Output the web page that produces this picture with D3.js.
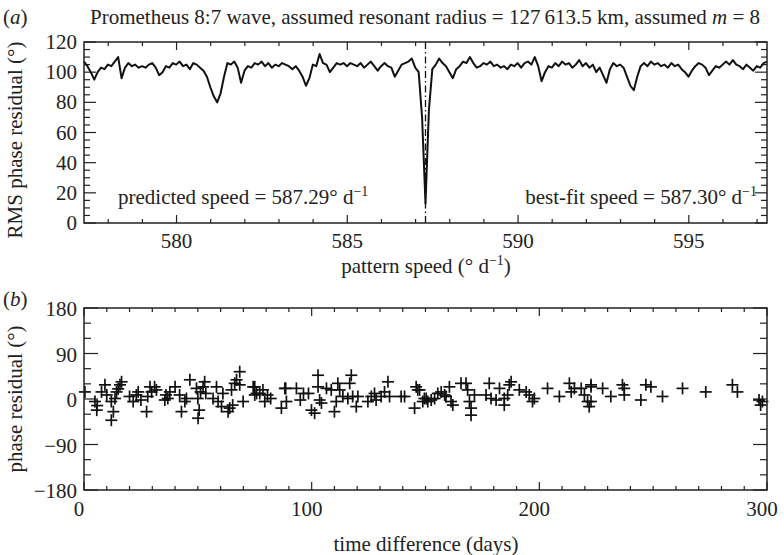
<!DOCTYPE html>
<html><head><meta charset="utf-8">
<script src="https://cdn.jsdelivr.net/npm/d3@7"></script>
<style>body{margin:0;background:#fff}svg text{font-family:"Liberation Serif","Times New Roman",serif;fill:#222}</style>
</head><body><svg id="c" width="784" height="555" font-family="Liberation Serif, serif"></svg>
<script>
// ---------- data ----------
const speedStart = 577.29, speedStep = 0.1;
const rmsResidual = [107,104,100,95,100,103,102,105,104,107,110,96,103,106,104,105,103,104,103,105,
106,103,98,100,104,103,106,105,107,104,105,102,106,105,103,101,97,90,84,80,
86,97,106,105,107,103,93,101,104,103,106,105,107,104,106,103,105,104,106,105,
104,102,104,101,97,91,96,105,104,112,106,105,100,103,106,105,106,104,106,105,
104,106,103,105,107,104,101,104,106,104,103,97,101,105,106,107,109,103,100,70,
13,75,102,105,109,106,104,100,96,102,104,107,106,110,106,103,104,106,105,107,
104,105,103,104,102,105,104,106,103,106,107,105,110,104,94,100,104,103,106,104,
107,105,106,103,105,108,104,106,103,105,100,103,98,93,102,106,104,105,103,97,
91,88,97,104,106,104,107,105,106,104,105,103,106,104,105,102,100,97,101,104,
106,105,103,98,101,104,103,105,107,105,108,105,104,102,105,103,101,104,103,106,107];
const predictedSpeed = 587.29;
const bestFitSpeed = 587.30;
const speedTicks = [580,585,590,595];
const rmsTicks = [0,20,40,60,80,100,120];

const timeDiff = [0.4,4.8,5.6,5.8,7.7,9.2,10,12,12,12.9,13.6,14.3,15,15.8,16.5,20,21.6,23,23.8,25,27.5,28,29,29.7,31,31.8,35.5,36,36.8,37.7,40,42,42.8,44.3,45,46.5,49.4,50,50.1,50.6,51.2,52.3,53,53.5,56.7,58.2,58.9,60.4,61,63.3,64,64.8,65.3,66.2,67,68.4,68.4,69.9,74.3,75.8,
75,75,77.2,78.6,79.4,80.6,82,86.7,88.2,88.6,88.9,93.3,95,96.4,98.6,99.9,101.3,102.8,102.8,103.5,104.3,106.5,108.6,110,110.8,111.5,112.3,113.7,115.9,116.7,117.4,118,119.6,120.3,124.7,126.2,127.6,128.3,130.5,132,133.5,134.2,139.3,140.8,145.2,145.9,146.6,149.5,151,
147.4,148.8,150.3,152.5,154,155.4,156.9,158.4,159,160.5,161.2,162,165.6,167.8,168.5,169.3,170,170,171.5,176.6,178,178.8,181,182.5,184.6,184.6,186.1,186.8,187.6,191.2,194.2,195.6,197,197.8,203.6,208.8,213.2,214,215.4,218.4,219.8,221.2,221.9,222.7,
222.7,222.7,227.8,231.4,236.5,237.3,237.3,244.6,246.8,249,254.1,262.9,273.1,284.8,287,296.5,297.2,298];
const phaseResidual = [14,-5,-22,-13,14,28,8,-5,-42,-25,1,14,20,28,34,5,-5,8,14,-2,-25,5,24,14,24,18,-2,8,1,14,24,8,-25,-5,1,38,21,1,-38,-22,14,24,34,11,1,24,-5,-15,11,-25,-18,18,-12,31,38,54,28,-5,24,11,
24,8,11,18,-5,8,1,-18,21,21,-5,21,-2,11,11,-22,-28,47,24,-2,-8,21,18,-25,-5,31,18,5,1,31,47,5,-15,5,-5,5,11,-2,5,14,34,5,5,5,-18,24,18,1,-5,
18,-5,1,-2,1,11,14,8,5,24,-5,-12,31,31,18,-5,-32,-18,8,8,31,1,-2,21,-12,1,8,28,34,18,14,8,-5,1,21,5,31,14,21,21,8,-5,-15,24,
28,-5,21,5,28,21,8,-2,28,24,5,21,14,28,14,-2,-12,-5];
const timeTicks = [0,100,200,300];
const phaseTicks = [-180,-90,0,90,180];

// ---------- layout ----------
const svg = d3.select("#c");
const L = 84, R = 767;
const topP = {t:42, b:223};
const botP = {t:308, b:490};
const ink = "#222";
const FS = 21, SUP = 14;

const xA = d3.scaleLinear().domain([577.29, 597.29]).range([L, R]);
const yA = d3.scaleLinear().domain([0, 120]).range([topP.b, topP.t]);

function frame(t, b){
  svg.append("rect").attr("x",L).attr("y",t).attr("width",R-L).attr("height",b-t)
    .attr("fill","none").attr("stroke",ink).attr("stroke-width",1.5);
}
function inwardTicks(g, scale, vals, len, orient, pos){
  vals.forEach(v=>{
    const p = scale(v);
    if(orient==="bottom") g.append("line").attr("x1",p).attr("x2",p).attr("y1",pos).attr("y2",pos-len);
    if(orient==="top") g.append("line").attr("x1",p).attr("x2",p).attr("y1",pos).attr("y2",pos+len);
    if(orient==="left") g.append("line").attr("y1",p).attr("y2",p).attr("x1",pos).attr("x2",pos+len);
    if(orient==="right") g.append("line").attr("y1",p).attr("y2",p).attr("x1",pos).attr("x2",pos-len);
  });
}

const tg = svg.append("g").attr("stroke",ink).attr("stroke-width",1.2);
const minorX = d3.range(578, 598, 1).filter(v=>!speedTicks.includes(v));
inwardTicks(tg, xA, minorX, 4, "bottom", topP.b);
inwardTicks(tg, xA, minorX, 4, "top", topP.t);
inwardTicks(tg, xA, speedTicks, 8, "bottom", topP.b);
inwardTicks(tg, xA, speedTicks, 8, "top", topP.t);
const minorYA = d3.range(0, 121, 5).filter(v=>v%20!==0);
inwardTicks(tg, yA, minorYA, 6, "left", L);
inwardTicks(tg, yA, minorYA, 6, "right", R);
inwardTicks(tg, yA, rmsTicks, 12, "left", L);
inwardTicks(tg, yA, rmsTicks, 12, "right", R);

const lineData = rmsResidual.map((v,i)=>({s: speedStart + i*speedStep, v}));
svg.append("path").datum(lineData)
  .attr("d", d3.line().x(d=>xA(d.s)).y(d=>yA(d.v)))
  .attr("fill","none").attr("stroke","#111").attr("stroke-width",2).attr("stroke-linejoin","round");
svg.append("line").attr("x1",xA(predictedSpeed)).attr("x2",xA(predictedSpeed))
  .attr("y1",topP.t).attr("y2",topP.b).attr("stroke","#111").attr("stroke-width",1.3)
  .attr("stroke-dasharray","7,3,1.5,3");
frame(topP.t, topP.b);

speedTicks.forEach(v=> svg.append("text").attr("x",xA(v)).attr("y",248).attr("text-anchor","middle")
  .attr("font-size",FS).text(v));
rmsTicks.forEach(v=> svg.append("text").attr("x",77).attr("y",yA(v)+7).attr("text-anchor","end")
  .attr("font-size",FS).text(v));

const title = svg.append("text").attr("x",425).attr("y",24).attr("text-anchor","middle").attr("font-size",FS);
title.append("tspan").text("Prometheus 8:7 wave, assumed resonant radius = 127\u2009613.5 km, assumed ");
title.append("tspan").attr("font-style","italic").text("m");
title.append("tspan").text(" = 8");
svg.append("text").attr("x",3).attr("y",24).attr("font-size",FS).html('(<tspan font-style="italic">a</tspan>)');

function withSup(textSel, base, tail){
  textSel.append("tspan").text(base);
  textSel.append("tspan").attr("font-size",SUP).attr("dy",-8).text("\u22121");
  if(tail) textSel.append("tspan").attr("dy",8).text(tail);
}
svg.append("text").attr("transform","translate(22,140) rotate(-90)").attr("text-anchor","middle").attr("font-size",FS)
  .text("RMS phase residual (\u00b0)");
withSup(svg.append("text").attr("x",426).attr("y",273).attr("text-anchor","middle").attr("font-size",FS),
  "pattern speed (\u00b0 d", ")");
withSup(svg.append("text").attr("x",118).attr("y",204).attr("font-size",FS),
  "predicted speed = " + predictedSpeed.toFixed(2) + "\u00b0 d");
withSup(svg.append("text").attr("x",757).attr("y",204).attr("font-size",FS).attr("text-anchor","end"),
  "best-fit speed = " + bestFitSpeed.toFixed(2) + "\u00b0 d");

// Panel (b)
const xB = d3.scaleLinear().domain([0, 300]).range([L, R]);
const yB = d3.scaleLinear().domain([-180, 180]).range([botP.b, botP.t]);
const minorT = d3.range(10, 300, 10).filter(v=>v%100!==0);
inwardTicks(tg, xB, minorT, 4, "bottom", botP.b);
inwardTicks(tg, xB, minorT, 4, "top", botP.t);
inwardTicks(tg, xB, timeTicks, 8, "bottom", botP.b);
inwardTicks(tg, xB, timeTicks, 8, "top", botP.t);
const minorP = d3.range(-150, 180, 30).filter(v=>v%90!==0);
inwardTicks(tg, yB, minorP, 7, "left", L);
inwardTicks(tg, yB, minorP, 7, "right", R);
inwardTicks(tg, yB, phaseTicks, 14, "left", L);
inwardTicks(tg, yB, phaseTicks, 14, "right", R);

const pts = timeDiff.map((t,i)=>({t, r: phaseResidual[i]}));
const mk = svg.append("g").attr("stroke","#111").attr("stroke-width",1.7);
pts.forEach(d=>{
  const x = xB(d.t), y = yB(d.r);
  mk.append("line").attr("x1",x-6).attr("x2",x+6).attr("y1",y).attr("y2",y);
  mk.append("line").attr("x1",x).attr("x2",x).attr("y1",y-6).attr("y2",y+6);
});
frame(botP.t, botP.b);

timeTicks.forEach(v=> svg.append("text").attr("x",xB(v)-5).attr("y",516).attr("text-anchor","middle")
  .attr("font-size",FS).text(v));
phaseTicks.forEach(v=> svg.append("text").attr("x",77).attr("y",yB(v)+8).attr("text-anchor","end")
  .attr("font-size",FS).text(v<0 ? "\u2212"+Math.abs(v) : v));
svg.append("text").attr("x",3).attr("y",306).attr("font-size",FS).html('(<tspan font-style="italic">b</tspan>)');
svg.append("text").attr("transform","translate(22,399) rotate(-90)").attr("text-anchor","middle").attr("font-size",FS)
  .text("phase residual (\u00b0)");
svg.append("text").attr("x",426).attr("y",551).attr("text-anchor","middle").attr("font-size",FS).text("time difference (days)");
</script></body></html>
